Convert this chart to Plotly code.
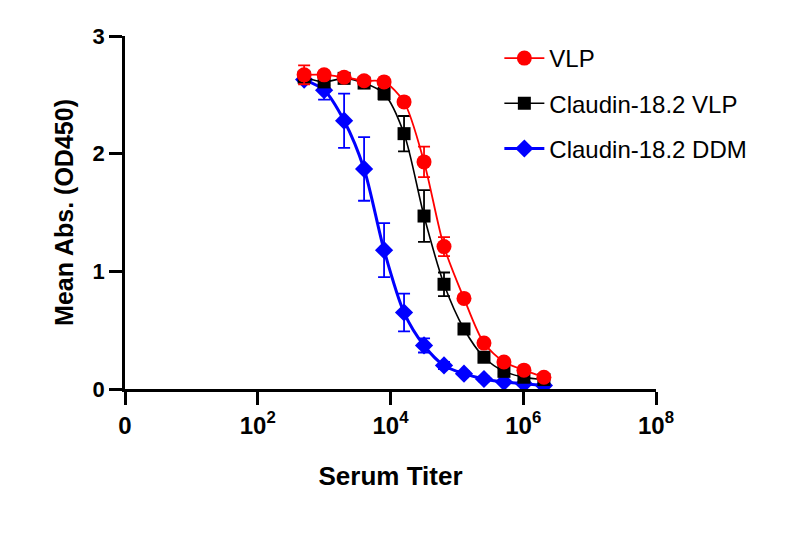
import plotly.graph_objects as go

titer = [500, 1000, 2000, 4000, 8000, 16000, 32000, 64000, 128000, 256000, 512000, 1024000, 2048000]

vlp = [2.67, 2.67, 2.65, 2.62, 2.61, 2.44, 1.93, 1.21, 0.77, 0.39, 0.23, 0.16, 0.10]
vlp_err = [0.08, 0.03, 0.03, 0.02, 0.02, 0.03, 0.13, 0.08, 0.03, 0.02, 0.02, 0.02, 0.02]

cl_vlp = [2.65, 2.61, 2.64, 2.60, 2.51, 2.17, 1.47, 0.89, 0.51, 0.27, 0.15, 0.10, 0.08]
cl_vlp_err = [0.04, 0.03, 0.03, 0.03, 0.05, 0.15, 0.22, 0.10, 0.04, 0.03, 0.02, 0.02, 0.02]

cl_ddm = [2.63, 2.54, 2.28, 1.87, 1.18, 0.65, 0.37, 0.20, 0.13, 0.085, 0.06, 0.045, 0.03]
cl_ddm_err = [0.03, 0.08, 0.23, 0.27, 0.23, 0.16, 0.06, 0.03, 0.02, 0.02, 0.01, 0.01, 0.01]

tick_vals = [1, 1e2, 1e4, 1e6, 1e8]
tick_text = ["0", "10<sup>2</sup>", "10<sup>4</sup>", "10<sup>6</sup>", "10<sup>8</sup>"]

FONT = "Liberation Sans, Arial, sans-serif"

fig = go.Figure()

series = [
    ("Claudin-18.2 DDM", cl_ddm, cl_ddm_err, "#0000FF", "diamond", 14, 3, 3),
    ("Claudin-18.2 VLP", cl_vlp, cl_vlp_err, "#000000", "square", 13, 1.6, 2),
    ("VLP", vlp, vlp_err, "#FF0000", "circle", 15, 1.8, 1),
]
for name, ys, errs, color, sym, msize, lw, rank in series:
    fig.add_trace(go.Scatter(
        x=titer, y=ys, name=name, mode="lines+markers",
        line=dict(color=color, width=lw, shape="spline", smoothing=0.8),
        marker=dict(color=color, symbol=sym, size=msize),
        error_y=dict(type="data", array=errs, visible=True, color=color, thickness=1.8, width=6),
        legendrank=rank, legendgroup=name,
    ))

fig.update_layout(
    width=800, height=540,
    margin=dict(l=125, r=144, t=36, b=151),
    paper_bgcolor="white", plot_bgcolor="white",
    font=dict(family=FONT, color="black"),
    showlegend=True,
    legend=dict(x=0.705, y=1.0, xanchor="left", yanchor="top",
                font=dict(size=24, family=FONT, color="black"),
                tracegroupgap=11, itemwidth=40, bgcolor="rgba(0,0,0,0)"),
)

fig.update_xaxes(
    type="log", range=[0, 8],
    tickvals=tick_vals, ticktext=tick_text,
    ticks="outside", ticklen=13, tickwidth=2.5, tickcolor="black",
    showline=True, linecolor="black", linewidth=2.5,
    showgrid=False, zeroline=False,
    tickfont=dict(size=24, family=FONT, color="black", weight="bold"),
    title=dict(text="Serum Titer", font=dict(size=26, family=FONT, color="black", weight="bold"), standoff=30),
)
fig.update_yaxes(
    range=[0, 3], tickvals=[0, 1, 2, 3],
    ticks="outside", ticklen=13, tickwidth=2.5, tickcolor="black",
    showline=True, linecolor="black", linewidth=2.5,
    showgrid=False, zeroline=False,
    tickfont=dict(size=22, family=FONT, color="black", weight="bold"),
    title=dict(text="Mean Abs. (OD450)", font=dict(size=25, family=FONT, color="black", weight="bold"), standoff=12),
)

fig.write_html("out.html")
